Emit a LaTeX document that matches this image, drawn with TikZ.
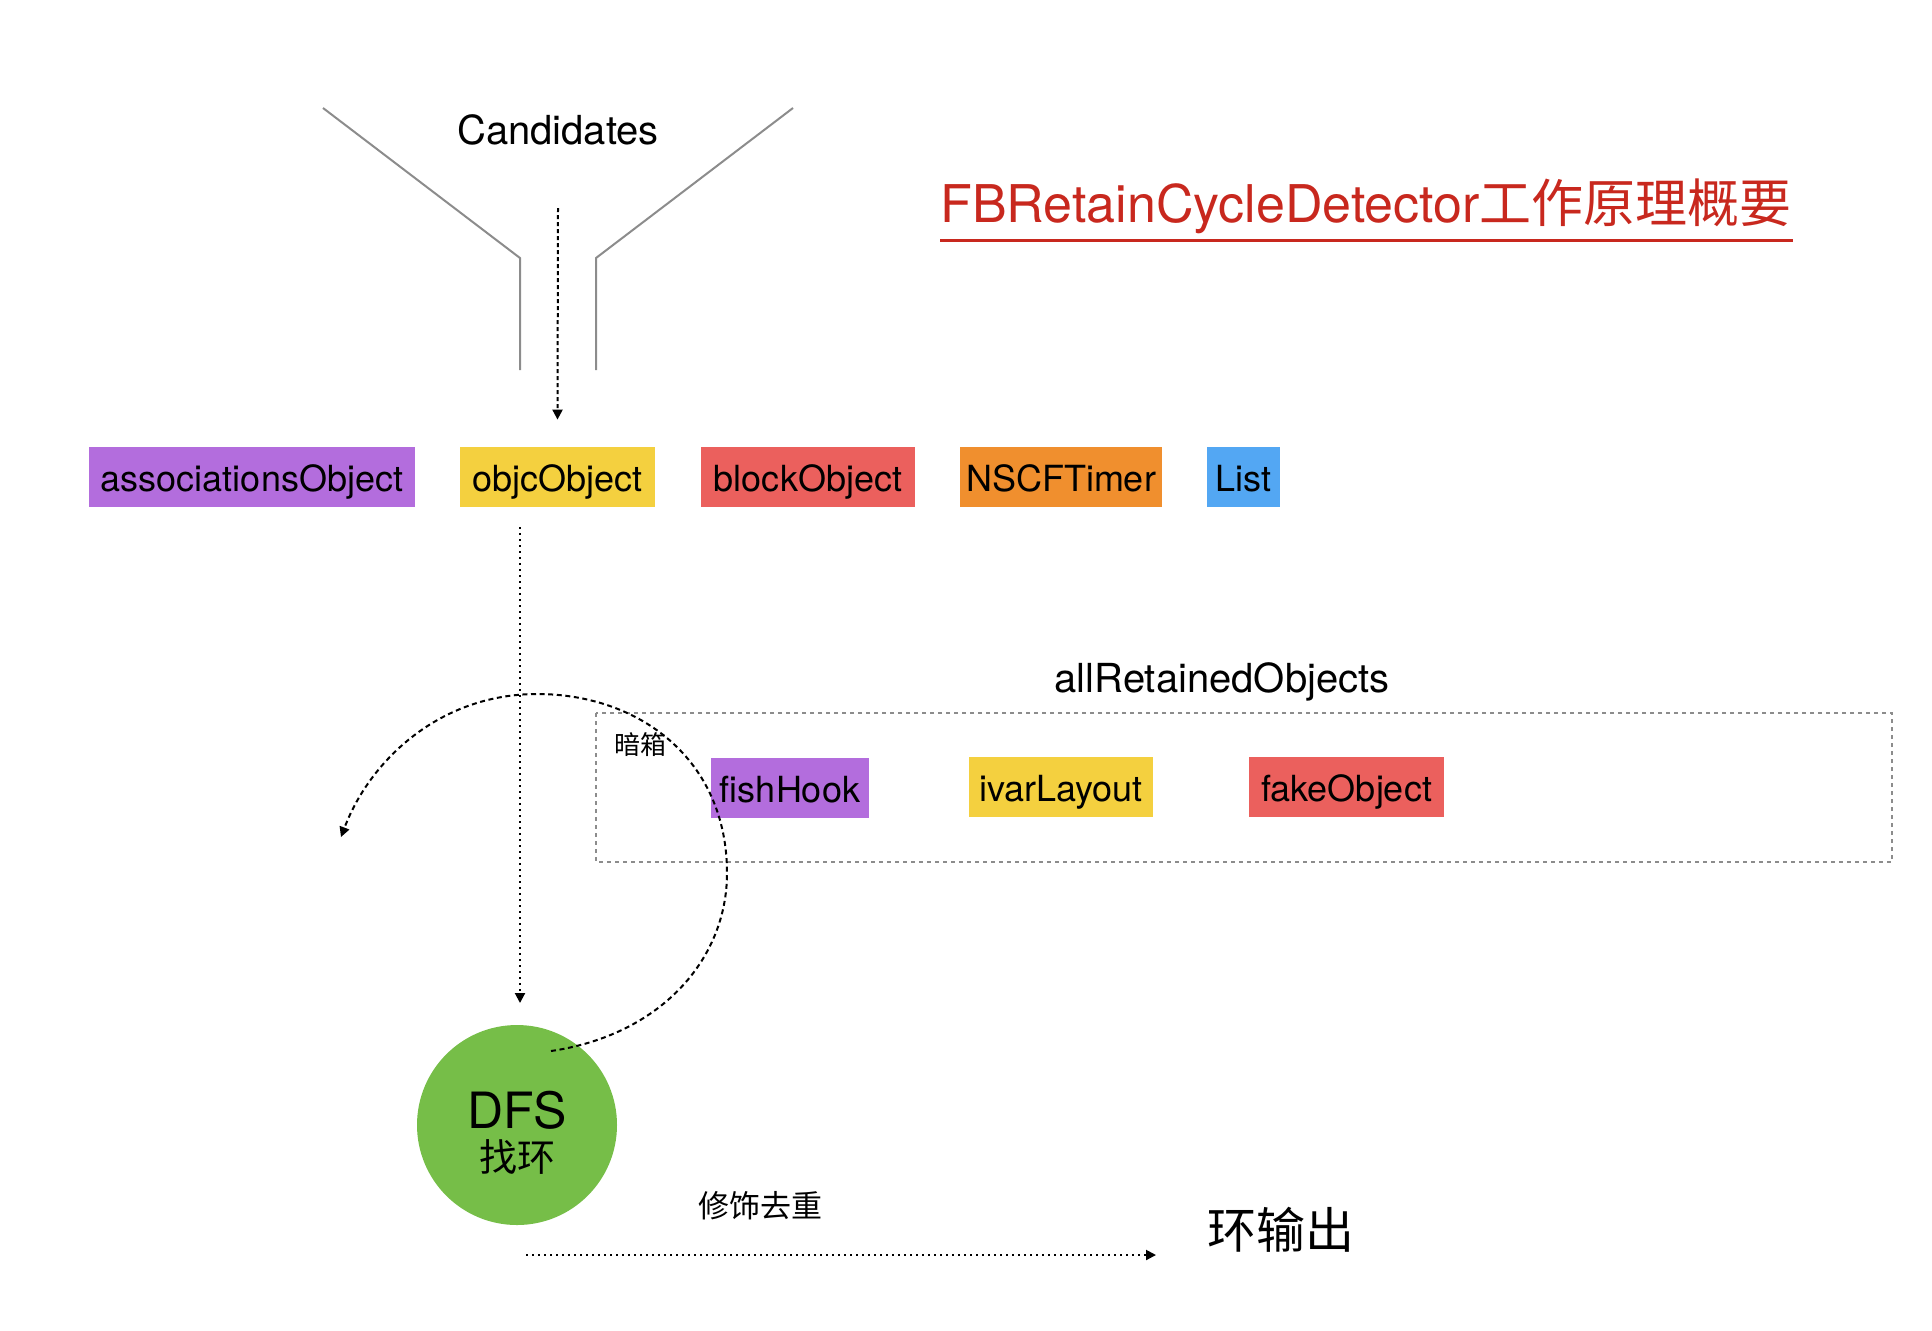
\documentclass[tikz,border=0pt]{standalone}
\usepackage{fontspec}
\setmainfont{TeX Gyre Heros}
\newfontfamily\cjk{Noto Sans CJK SC}
\usetikzlibrary{arrows.meta}
\definecolor{cpurple}{HTML}{B36DDD}
\definecolor{cyellow}{HTML}{F4D03F}
\definecolor{cred}{HTML}{EB605D}
\definecolor{corange}{HTML}{F08F2E}
\definecolor{cblue}{HTML}{53A7F3}
\definecolor{cgreen}{HTML}{76BE48}
\definecolor{ctitle}{HTML}{C8281E}
\definecolor{cgray}{HTML}{8C8C8C}
\tikzset{
  obj/.style={inner sep=0pt, minimum height=30pt, text height=18pt, text depth=4pt, font=\fontsize{18}{20}\selectfont, text=black},
  funnel/.style={draw=cgray, line width=1pt},
  tip/.style={-{Triangle[length=5pt,width=5pt]}},
  dashline/.style={tip, line width=1pt, dash pattern=on 2pt off 1.5pt},
  dotline/.style={tip, line width=1pt, dash pattern=on 1pt off 2pt},
  arcline/.style={tip, line width=1pt, dash pattern=on 2.5pt off 1.8pt},
  boxline/.style={draw=cgray, line width=0.9pt, dash pattern=on 2pt off 2pt},
}
\begin{document}
\begin{tikzpicture}[x=0.5pt,y=-0.5pt]
\useasboundingbox (0,0) rectangle (1932,1330);
% funnel
\draw[funnel] (323,108) -- (520,258) -- (520,370);
\draw[funnel] (793,108) -- (596,258) -- (596,370);
\node[font=\fontsize{20}{24}\selectfont] (cand) at (558,130) {Candidates};
% title
\node[anchor=base west, inner sep=0pt, text=ctitle, font=\fontsize{26}{30}\selectfont] (title) at (940,222) {FBRetainCycleDetector{\cjk 工作原理概要}};
\draw[ctitle, line width=1.5pt] (940,240) coordinate (ul1) -- (1793,240) coordinate (ul2);
% first row
\node[obj, fill=cpurple, minimum width=163pt] (assoc) at (252,477) {associationsObject};
\node[obj, fill=cyellow, minimum width=97.5pt] (objc) at (557.5,477) {objcObject};
\node[obj, fill=cred, minimum width=107pt] (block) at (808,477) {blockObject};
\node[obj, fill=corange, minimum width=101pt] (timer) at (1061,477) {NSCFTimer};
\node[obj, fill=cblue, minimum width=36.5pt] (list) at (1243.5,477) {List};
% candidates arrow
\coordinate (c1) at (558,208);
\draw[dashline] (c1) -- ([yshift=13.5pt]objc.north);
% dark box
\node[font=\fontsize{20}{24}\selectfont] (allret) at (1222,682) {allRetainedObjects};
\draw[boxline] (596,713) rectangle (1892,862);
\node[font=\cjk\fontsize{13}{15}\selectfont, inner sep=0pt] (anxiang) at (640,745) {暗箱};
\node[obj, fill=cpurple, minimum width=79pt] (fish) at (790,788) {fishHook};
\node[obj, fill=cyellow, minimum width=92pt] (ivar) at (1061,787) {ivarLayout};
\node[obj, fill=cred, minimum width=97.5pt] (fake) at (1346.5,787) {fakeObject};
% DFS circle
\node[circle, fill=cgreen, minimum size=100pt, inner sep=0pt] (dfs) at (517,1125) {};
\node[anchor=base, inner sep=0pt, font=\fontsize{25}{28}\selectfont] (dfstext) at (517,1128) {DFS};
\node[inner sep=0pt, font=\cjk\fontsize{19}{21}\selectfont] (zhaohuan) at (517,1157) {找环};
% vertical dotted arrow
\coordinate (v1) at (520,527);
\coordinate (v2) at (520,1003);
\draw[dotline] (v1) -- (v2);
% dashed arc
\coordinate (a0) at (551,1051);
\coordinate (a1) at (727,873);
\coordinate (a2) at (537,694);
\coordinate (a3) at (341,837);
\draw[arcline] (a0) .. controls (660,1035) and (727,960) .. (a1)
  .. controls (727,760) and (640,694) .. (a2)
  .. controls (440,694) and (370,760) .. (a3);
% output
\node[inner sep=0pt, font=\cjk\fontsize{15.5}{18}\selectfont] (xiushi) at (760,1206) {修饰去重};
\node[inner sep=0pt, font=\cjk\fontsize{24.5}{28}\selectfont] (out) at (1281,1230) {环输出};
\coordinate (h1) at (526,1255);
\coordinate (h2) at (1156,1255);
\draw[dotline] (h1) -- (h2);
\end{tikzpicture}
\end{document}
